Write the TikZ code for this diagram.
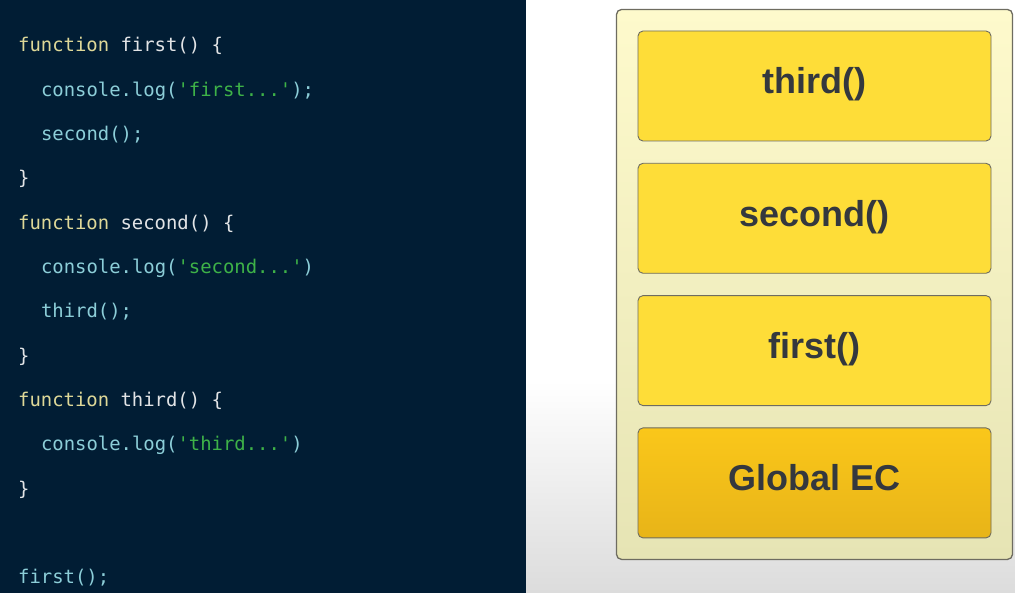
\documentclass[tikz,border=0pt]{standalone}
\usepackage{fontspec}
\setmonofont{DejaVu Sans Mono}
\newfontfamily\labelfont{Liberation Sans}
\usetikzlibrary{
    positioning,
    fit,
    backgrounds
}
\definecolor{EditorBg}{RGB}{1,29,52}
\definecolor{KeyYellow}{RGB}{222,216,152}
\definecolor{NameWhite}{RGB}{226,228,230}
\definecolor{CallCyan}{RGB}{140,206,216}
\definecolor{StrGreen}{RGB}{62,178,72}
\definecolor{FrameFill}{RGB}{254,221,56}
\definecolor{GlobalTop}{RGB}{250,199,26}
\definecolor{GlobalBot}{RGB}{232,180,24}
\definecolor{StackTop}{RGB}{254,250,204}
\definecolor{StackBot}{RGB}{230,228,180}
\definecolor{EdgeGray}{RGB}{110,108,96}
\definecolor{LabelInk}{RGB}{52,56,62}
\definecolor{PageGray}{RGB}{220,220,220}

\newcommand{\codekw}[1]{\textcolor{KeyYellow}{#1}}
\newcommand{\codename}[1]{\textcolor{NameWhite}{#1}}
\newcommand{\codecall}[1]{\textcolor{CallCyan}{#1}}
\newcommand{\codestr}[1]{\textcolor{StrGreen}{#1}}

\begin{document}
\begin{tikzpicture}[
                    x=1pt, y=-1pt,
                    codeline/.style={anchor=base west, inner sep=0pt,
                        font=\ttfamily\fontsize{18.9}{22}\selectfont},
                    framebox/.style={draw=EdgeGray, line width=0.9pt, rounded corners=5pt,
                        fill=FrameFill, minimum width=353pt, minimum height=110pt, outer sep=0pt,
                        text height=26pt, text depth=10pt, text=LabelInk,
                        font=\labelfont\bfseries\fontsize{36}{40}\selectfont},
                    globalbox/.style={top color=GlobalTop, bottom color=GlobalBot},
                    stackbox/.style={draw=EdgeGray, line width=1.3pt, rounded corners=5pt,
                        top color=StackTop, bottom color=StackBot, inner sep=21.5pt},
                ]
                  \def\xCode{18}
                  \def\xIndent{40.8}
                  \def\gapH{22.3pt}

                  \useasboundingbox (0,0) rectangle (1015,593);

                  % ---- Source code (left panel) ----
                  \node[codeline] (fnfirst) at (\xCode,52) {\codekw{function} \codename{first() \{}};
                  \node[codeline] (logfirst) at (\xIndent,96.3) {\codecall{console.log(}\codestr{'first...'}\codecall{);}};
                  \node[codeline] (callsecond) at (\xIndent,140.6) {\codecall{second();}};
                  \node[codeline] (endfirst) at (\xCode,184.9) {\codename{\}}};

                  \node[codeline] (fnsecond) at (\xCode,229.2) {\codekw{function} \codename{second() \{}};
                  \node[codeline] (logsecond) at (\xIndent,273.5) {\codecall{console.log(}\codestr{'second...'}\codecall{)}};
                  \node[codeline] (callthird) at (\xIndent,317.8) {\codecall{third();}};
                  \node[codeline] (endsecond) at (\xCode,362.1) {\codename{\}}};

                  \node[codeline] (fnthird) at (\xCode,406.4) {\codekw{function} \codename{third() \{}};
                  \node[codeline] (logthird) at (\xIndent,450.7) {\codecall{console.log(}\codestr{'third...'}\codecall{)}};
                  \node[codeline] (endthird) at (\xCode,495) {\codename{\}}};

                  \node[codeline] (callfirst) at (\xCode,583.6) {\codecall{first();}};

                  % ---- Call stack (right panel) ----
                  \node[framebox] (framethird) at (814.5,86) {third()};
                  \node[framebox, below=\gapH of framethird] (framesecond) {second()};
                  \node[framebox, below=\gapH of framesecond] (framefirst) {first()};
                  \node[framebox, globalbox, below=\gapH of framefirst] (frameglobal) {Global EC};

                  % Backgrounds and stack frame
                  \begin{scope}[on background layer]
                    \fill[EditorBg] (0,0) rectangle (526,593);
                    \fill[white] (526,0) rectangle (1015,380);
                    \shade[top color=white, bottom color=PageGray] (526,380) rectangle (1015,593);
                    \node[stackbox, fit=(framethird)(frameglobal)] (stack) {};
                  \end{scope}
                \end{tikzpicture}
\end{document}
